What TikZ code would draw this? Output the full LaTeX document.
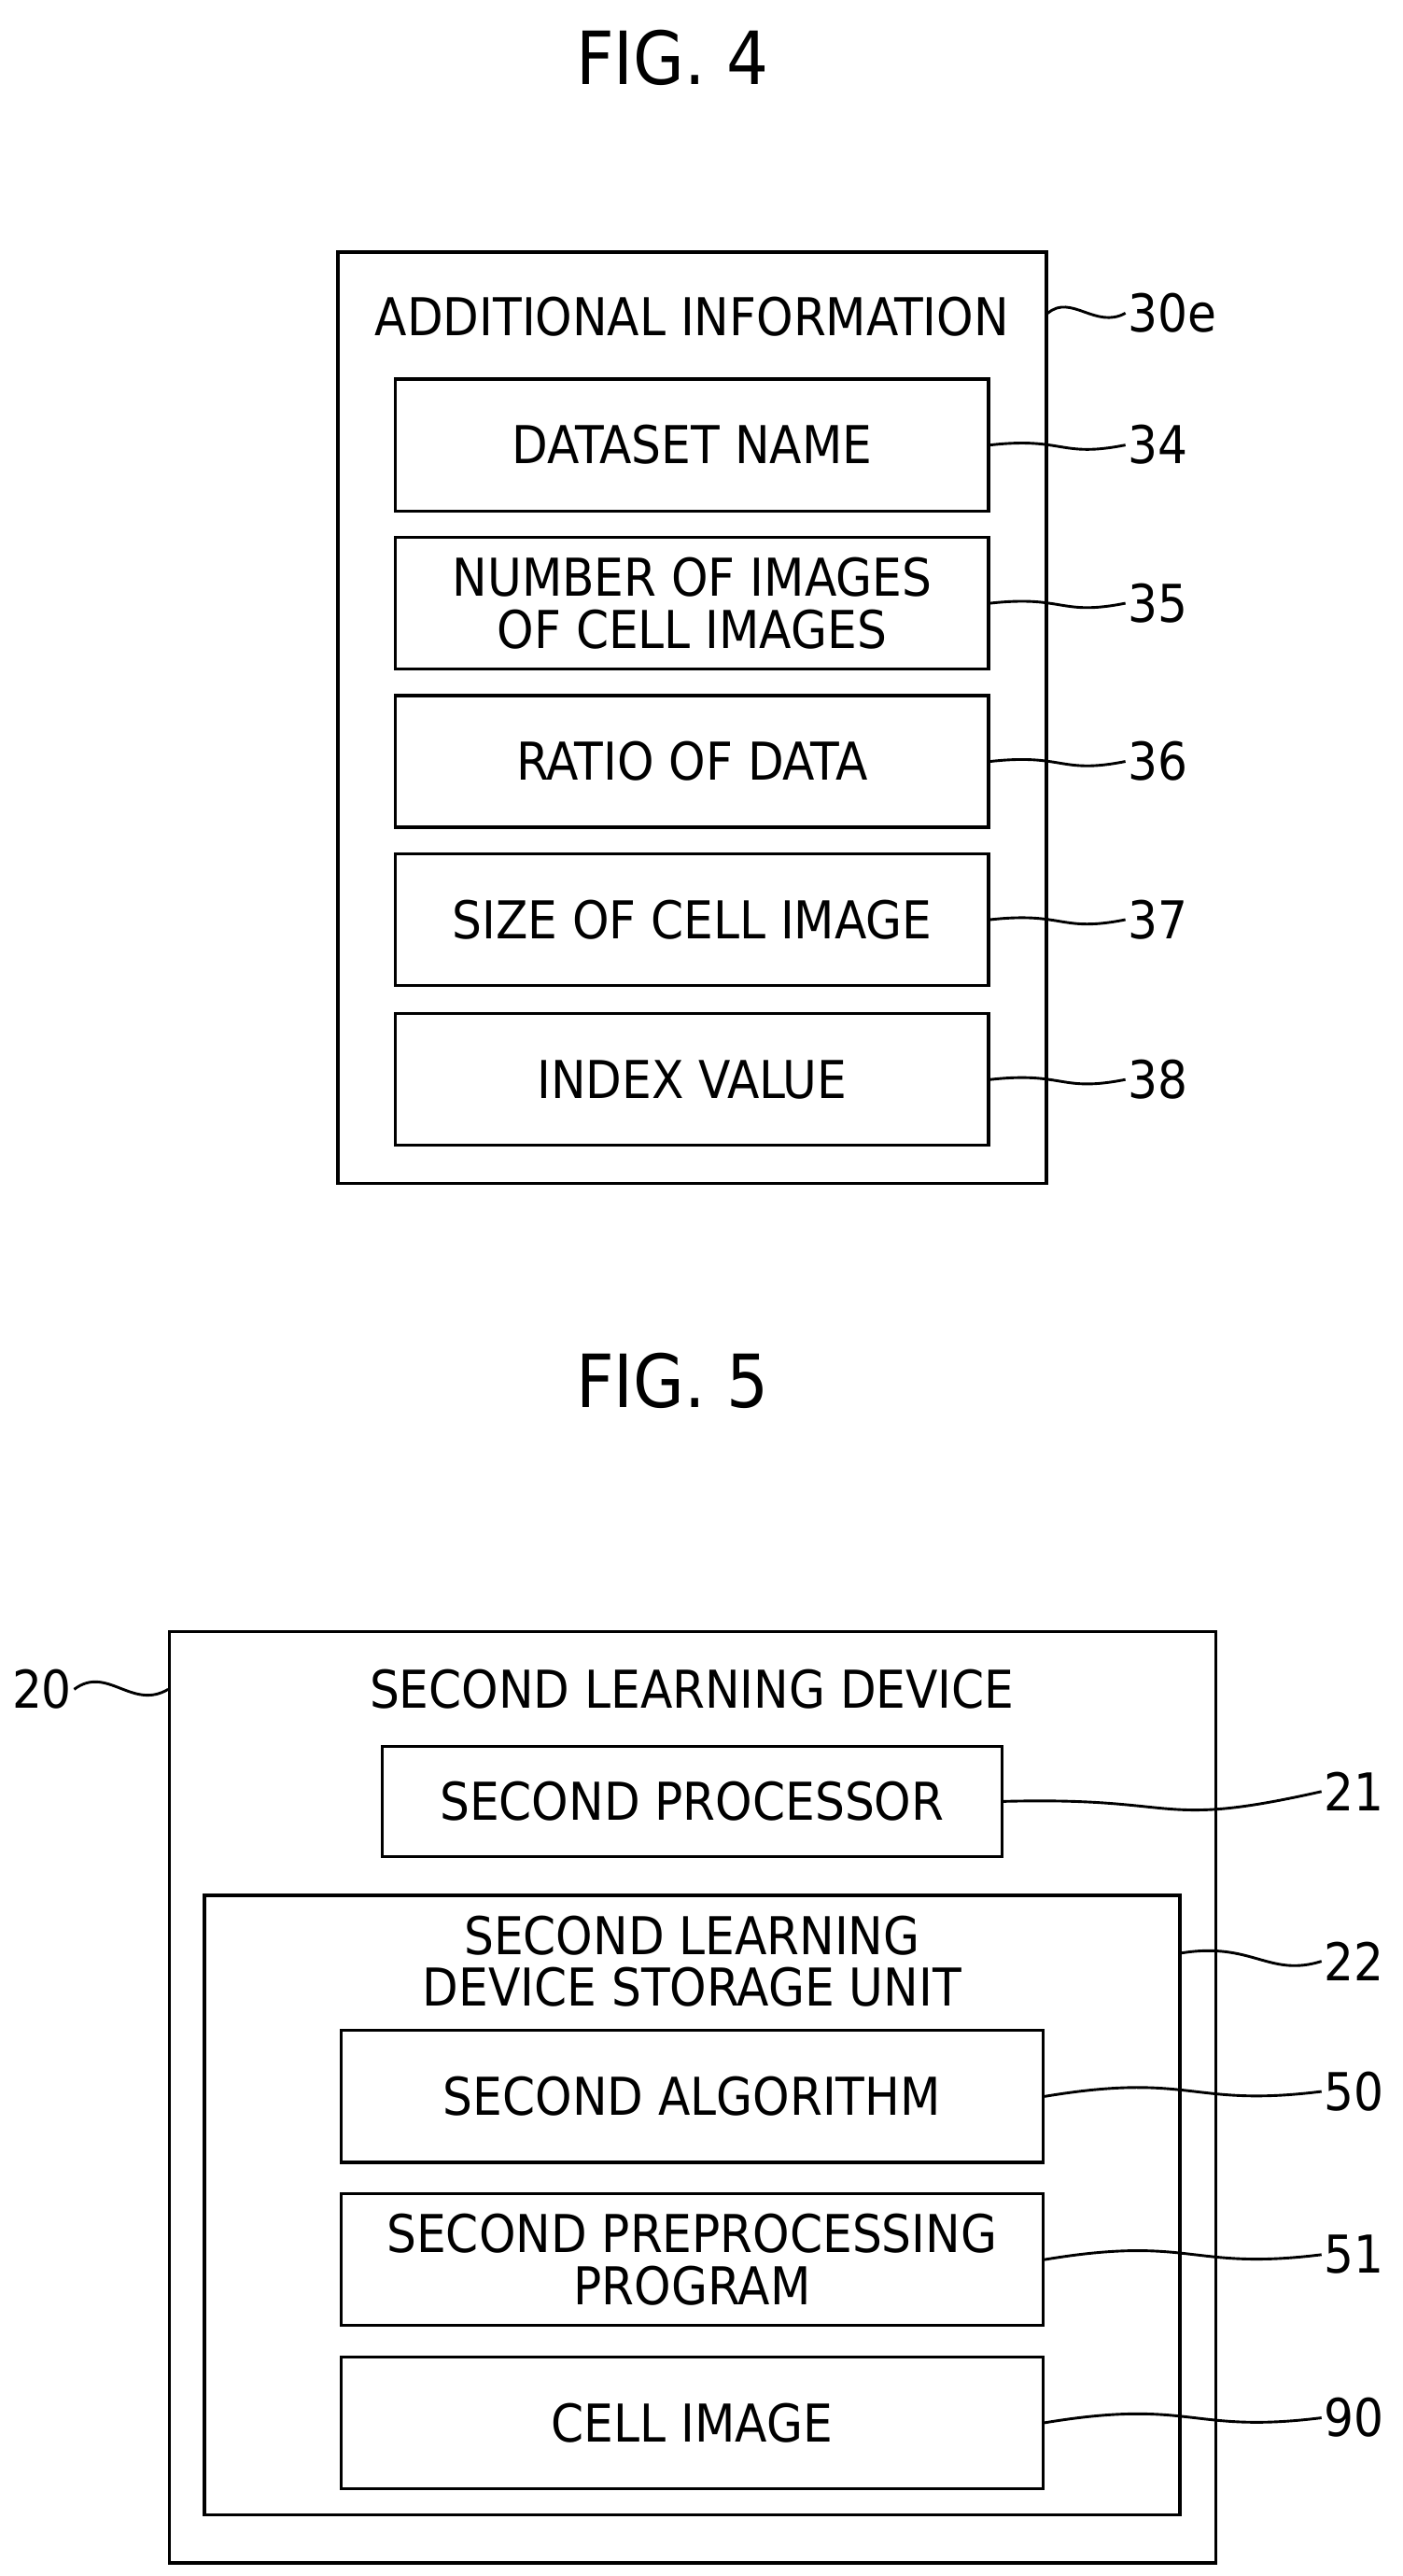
\documentclass[tikz,border=0pt]{standalone}
\usepackage{fontspec}
\setmainfont{DejaVu Sans Condensed}
\tikzset{
  box/.style={draw, line width=1.6pt, inner sep=0pt, align=center},
  lbl/.style={anchor=west, inner sep=1pt},
  lead/.style={line width=1.4pt},
  fig/.style={font=\fontsize{38}{40}\selectfont}
}
\begin{document}
\begin{tikzpicture}[x=0.03cm, y=-0.03cm, font=\fontsize{27}{31}\selectfont]
  \useasboundingbox (0,0) rectangle (851,1563);
  % FIG. 4
  \node[fig] (fig4) at (408,35) {FIG. 4};
  \node[box, minimum width=430*0.03cm, minimum height=565*0.03cm] (add) at (420,435.5) {};
  \node (addt) at (420,192) {ADDITIONAL INFORMATION};
  \node[lbl] (l30e) at (683,190) {30e};
  \draw[lead] (add.east |- l30e) .. controls (650,178) and (665,200) .. (l30e.west);
  \foreach \n/\y/\t in {34/270/DATASET NAME, 35/366/{NUMBER OF IMAGES\\[-4pt]OF CELL IMAGES}, 36/462/RATIO OF DATA, 37/558/SIZE OF CELL IMAGE, 38/655/INDEX VALUE} {
    \node[box, minimum width=360*0.03cm, minimum height=80*0.03cm] (d\n) at (420,\y) {\t};
    \node[lbl] (l\n) at (683,\y) {\n};
    \draw[lead] (d\n.east) .. controls +(45,-5) and +(-40,8) .. (l\n.west);
  }
  % FIG. 5
  \node[fig] (fig5) at (408,838) {FIG. 5};
  \node[box, minimum width=635*0.03cm, minimum height=565*0.03cm] (dev) at (420.5,1272.5) {};
  \node (devt) at (420,1025) {SECOND LEARNING DEVICE};
  \node[anchor=east, inner sep=1pt] (l20) at (45,1025) {20};
  \draw[lead] (l20.east) .. controls (65,1010) and (80,1038) .. (dev.west |- l20);
  \node[box, minimum width=376*0.03cm, minimum height=67*0.03cm] (proc) at (420,1093) {SECOND PROCESSOR};
  \node[lbl] (l21) at (802,1087) {21};
  \draw[lead] (proc.east) .. controls (720,1090) and (700,1110) .. (l21.west);
  \node[box, minimum width=592*0.03cm, minimum height=376*0.03cm] (stor) at (420,1338) {};
  \node[align=center] (stort) at (420,1190) {SECOND LEARNING\\[-4pt]DEVICE STORAGE UNIT};
  \node[lbl] (l22) at (802,1190) {22};
  \draw[lead] (stor.east |- 0,1185) .. controls (760,1178) and (770,1200) .. (l22.west);
  \foreach \n/\y/\t in {50/1272/SECOND ALGORITHM, 51/1371/{SECOND PREPROCESSING\\[-4pt]PROGRAM}, 90/1470/CELL IMAGE} {
    \node[box, minimum width=426*0.03cm, minimum height=80*0.03cm] (d\n) at (420,\y) {\t};
    \node[lbl] (l\n) at (802,\y-3) {\n};
    \draw[lead] (d\n.east) .. controls +(90,-15) and +(-80,10) .. (l\n.west);
  }
\end{tikzpicture}
\end{document}
